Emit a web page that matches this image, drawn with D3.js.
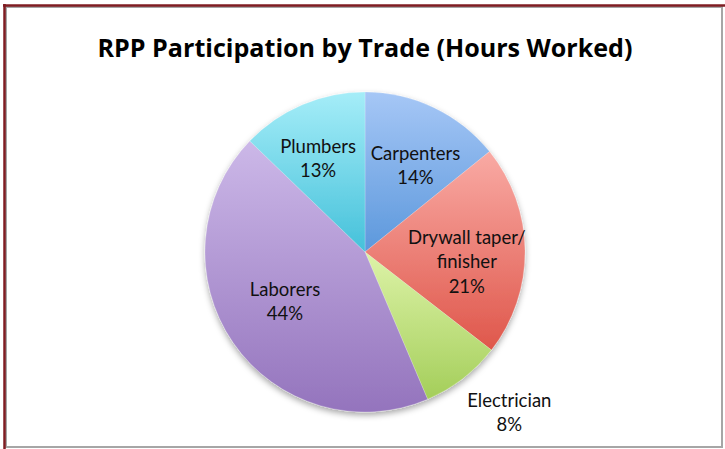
<!DOCTYPE html>
<html>
<head>
<meta charset="utf-8">
<script src="https://cdn.jsdelivr.net/npm/d3@7"></script>
<style>
  html, body { margin: 0; padding: 0; background: #fff; }
  svg { display: block; }
</style>
</head>
<body>
<div id="chart"></div>
<script>
// data (share of hours worked, %)
const categories = ["Carpenters", "Drywall taper/finisher", "Electrician", "Laborers", "Plumbers"];
const shares = [14.2, 21.3, 8.1, 43.6, 12.8];
const topColors = ["#a6c7f6", "#f9aaa4", "#ddf3a8", "#ccb8e8", "#a5edf8"];
const bottomColors = ["#5c98dc", "#df574b", "#a4ce5a", "#9474bd", "#45c1da"];
const title = "RPP Participation by Trade (Hours Worked)";

const width = 725, height = 449;
const cx = 365, cy = 252, radius = 160;

const svg = d3.select("#chart").append("svg")
    .attr("width", width)
    .attr("height", height);

// frame
svg.append("rect").attr("x", 6).attr("y", 7).attr("width", 716).attr("height", 440)
    .attr("fill", "#fff").attr("stroke", "#a6a6a6").attr("stroke-width", 2);
svg.append("line").attr("x1", 3).attr("x2", width).attr("y1", 5.5).attr("y2", 5.5)
    .attr("stroke", "#7f1d22").attr("stroke-width", 2.5);
svg.append("line").attr("x1", 4.5).attr("x2", 4.5).attr("y1", 4).attr("y2", height)
    .attr("stroke", "#7f1d22").attr("stroke-width", 2.5);

const defs = svg.append("defs");
categories.forEach(function (c, i) {
    const g = defs.append("linearGradient")
        .attr("id", "grad" + i)
        .attr("x1", 0).attr("y1", 0).attr("x2", 0).attr("y2", 1);
    g.append("stop").attr("offset", "0%").attr("stop-color", topColors[i]);
    g.append("stop").attr("offset", "100%").attr("stop-color", bottomColors[i]);
});

const shadow = defs.append("filter").attr("id", "shadow")
    .attr("x", "-20%").attr("y", "-20%").attr("width", "140%").attr("height", "140%");
shadow.append("feDropShadow")
    .attr("dx", 0).attr("dy", 3).attr("stdDeviation", 3)
    .attr("flood-color", "#000").attr("flood-opacity", 0.35);

// title, scaled to the width it has in the picture
const titleText = svg.append("text")
    .attr("x", 365).attr("y", 57)
    .attr("text-anchor", "middle")
    .style("font-family", "'Open Sans', 'Liberation Sans', sans-serif")
    .style("font-weight", "bold")
    .style("font-size", "22px")
    .attr("fill", "#000")
    .text(title);
const tw = titleText.node().getComputedTextLength();
titleText.style("font-size", (22 * 535 / tw).toFixed(2) + "px");

const pie = d3.pie().sort(null).value(function (d) { return d; });
const arcs = pie(shares);

const arc = d3.arc().innerRadius(0).outerRadius(radius);
const insideArc = d3.arc().innerRadius(radius * 0.63).outerRadius(radius * 0.63);
const outsideArc = d3.arc().innerRadius(radius * 1.35).outerRadius(radius * 1.35);

// small offsets so labels sit where Excel's best fit put them
const labelNudge = [[7, 2.5], [1, 8.5], [12.5, -12.5], [3, -9.5], [-7.5, -3]];

const g = svg.append("g").attr("transform", `translate(${cx},${cy})`);

g.append("g").attr("filter", "url(#shadow)")
    .selectAll("path")
    .data(arcs)
    .join("path")
    .attr("d", arc)
    .attr("fill", function (d, i) { return "url(#grad" + i + ")"; })
    .attr("stroke", "rgba(255,255,255,0.35)")
    .attr("stroke-width", 0.6);

// labels: name lines + percent, small slices go outside
const lineH = 24.5;
g.selectAll("text.lbl")
    .data(arcs)
    .join("text")
    .attr("class", "lbl")
    .attr("text-anchor", "middle")
    .style("font-family", "Lato, 'Open Sans', sans-serif")
    .style("font-size", "18.5px")
    .attr("fill", "#111")
    .each(function (d, i) {
        const lines = categories[i].replace("/", "/\n").split("\n");
        lines.push(Math.round(d.data) + "%");
        const p = (d.data < 10 ? outsideArc : insideArc).centroid(d);
        const x = p[0] + labelNudge[i][0];
        const y0 = p[1] + labelNudge[i][1] - (lines.length - 1) * lineH / 2 + 8.5;
        d3.select(this).selectAll("tspan")
            .data(lines)
            .join("tspan")
            .attr("x", x)
            .attr("y", function (t, k) { return y0 + k * lineH; })
            .text(function (t) { return t; });
    });
</script>
</body>
</html>
